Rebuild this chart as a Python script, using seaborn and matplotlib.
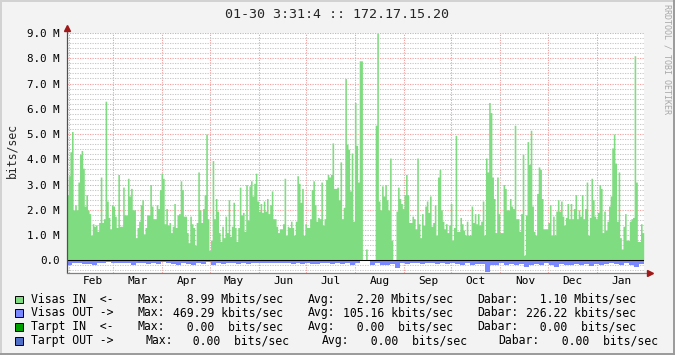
import datetime as dt
import numpy as np
import matplotlib
matplotlib.use("Agg")
import matplotlib.pyplot as plt
import matplotlib.dates as mdates
from matplotlib.ticker import MultipleLocator
from matplotlib.patches import Rectangle
from matplotlib.lines import Line2D
import seaborn as sns

sns.set_theme(style="white")
plt.rcParams['font.family'] = ['DejaVu Sans Mono', 'DejaVu Sans']

nan = np.nan

# ---- data (Mbit/s), roughly one value per day ----
visas_in = [
    2.6, 3.35, 4.3, 5.1, 2.0, 2.2, 2.0, 3.1, 4.2, 4.35,
    3.65, 2.15, 2.6, 2.0, 1.85, 1.0, 1.45, 1.35, 1.4, 1.15,
    1.5, 3.3, 1.5, 1.65, 6.3, 2.35, 1.7, 1.25, 2.2, 2.15,
    1.75, 1.3, 3.4, 1.35, 1.35, 2.9, 1.8, 1.8, 3.25, 2.55,
    2.85, 2.0, 2.0, 0.9, 1.3, 1.55, 2.2, 2.4, 1.05, 1.3,
    1.8, 1.8, 3.0, 2.15, 1.65, 1.65, 2.2, 2.05, 2.8, 3.45,
    3.25, 1.45, 2.05, 1.4, 1.5, 1.1, 1.35, 2.25, 1.3, 1.8,
    1.85, 3.15, 2.8, 1.75, 1.75, 1.1, 0.7, 1.75, 1.45, 1.3,
    0.6, 1.5, 3.5, 2.0, 1.5, 2.05, 2.6, 5.0, 1.65, 0.4,
    0.8,
    3.95, 1.65, 2.45, 1.95, 1.1, 0.75, 1.35, 0.9, 1.75, 1.1,
    2.4, 0.95, 1.35, 2.3, 1.3, 0.75, 1.3, 2.9, 1.8, 1.9,
    1.15, 3.0, 1.6, 2.95, 3.15, 2.55, 3.05, 3.45, 2.35, 1.95,
    2.25, 1.9, 2.35, 1.95, 2.45, 1.85, 2.2, 2.75, 1.65, 1.65,
    1.35, 1.1, 1.25, 1.25, 1.45, 3.25, 1.0, 1.35, 1.3, 1.55,
    1.3, 1.0, 1.55, 3.35, 3.05, 2.3, 2.85, 1.0, 1.45, 1.3,
    1.3, 1.65, 2.8, 3.15, 2.2, 1.55, 1.7, 1.65, 3.1, 1.4,
    1.65, 3.2, 3.4, 3.3, 3.4, 4.65, 2.85, 2.85, 2.9, 2.4,
    3.9, 1.65, 2.1, 7.2, 4.6, 4.4, 2.75, 4.25,
    1.55, 6.25, 4.55, 3.1, 7.9, 7.9,
    nan, nan, 0.45, nan, nan, nan, nan, nan,
    5.35, 8.99, 2.35, 2.0, 2.95, 2.55, 3.0, 2.4, 2.0, 4.05, 0.8,
    nan, nan,
    1.95, 2.9, 2.45, 2.25, 2.05, 2.6, 3.4, 2.6, 1.5, 1.5,
    1.75, 1.65, 1.25, 4.05, 1.45, 0.9, 1.85, 1.4, 2.15, 2.35,
    1.9, 2.55, 1.35, 1.5, 2.2, 1.0, 3.3, 3.6, 2.0, 1.55,
    1.25, 1.45, 1.1, 1.4, 2.25, 0.8, 1.3, 4.95, 1.15, 1.15,
    1.7, 1.45, 1.2, 1.0, 1.55, 1.0, 1.0, 2.15, 1.5, 1.85,
    1.45, 1.85, 1.4, 1.55, 2.35, 1.0, 4.05, 3.5, 6.25, 5.85,
    3.3, 2.45, 1.1,
    3.3, 1.85, 1.1, 1.1, 3.0, 2.85, 2.0, 2.0, 2.45, 2.15,
    2.05, 5.35, 1.65, 1.65, 1.15, 1.85, 4.2, 0.2, 1.8, 4.7,
    3.8, 5.15, 2.15, 1.15, 1.0, 2.65, 3.7, 3.6, 2.45, 1.25,
    1.25, 1.25, 1.5, 2.2, 1.0, 1.75, 1.0, 1.95, 2.4, 1.95,
    2.35, 1.75, 1.4, 1.7, 2.25, 1.65, 2.25, 1.65, 2.05, 2.6,
    1.65, 2.0, 1.75, 2.6, 1.65, 2.05, 3.1, 1.0, 1.7, 3.25,
    2.4, 1.75, 1.65, 1.9, 3.0, 2.85, 1.1, 1.95, 1.2, 1.55,
    2.15, 2.55, 4.45, 5.0, 3.85, 1.55, 3.5, 0.9, 0.45, 1.35,
    1.85, 0.8, 0.8, 1.55, 1.65, 1.7, 8.1, 3.1, 0.75, 0.75,
    1.45, 1.1,
]

# outgoing traffic (Mbit/s), drawn below zero, roughly one value per 3 days
visas_out = [
    0.18, 0.09, 0.12, 0.15, 0.14, 0.19, 0.12, 0.10, 0.06, 0.10,
    0.09, 0.10, 0.11, 0.19, 0.12, 0.10, 0.15, 0.11, 0.15, 0.07,
    0.11, 0.15, 0.20, 0.09, 0.14, 0.17, 0.11, 0.15, 0.07, 0.19,
    0.11, 0.14, 0.11, 0.12, 0.15, 0.09, 0.14, 0.12, 0.11,
    0.12, 0.11, 0.11, 0.10, 0.11, 0.12, 0.15, 0.12, 0.15, 0.10,
    0.15, 0.14, 0.12, 0.11, 0.15, 0.12, 0.15, 0.11, 0.19, 0.11,
    nan, nan, 0.19, 0.12, 0.17, 0.19, 0.15, 0.30, 0.12, 0.15,
    0.12, 0.11, 0.15, 0.12, 0.11, 0.15, 0.11, 0.14, 0.11,
    0.15, 0.17, 0.12, 0.17, 0.15, 0.14, 0.47, 0.19, 0.17, 0.11,
    0.19, 0.15, 0.19, 0.15, 0.26, 0.19, 0.15, 0.17, 0.11, 0.17,
    0.27, 0.15, 0.19, 0.17, 0.14, 0.19, 0.15, 0.23, 0.15, 0.18,
    0.15, 0.12, 0.15, 0.17, 0.11, 0.19, 0.26, 0.15,
]

start = dt.datetime(2009, 1, 30, 15, 31)
end = dt.datetime(2010, 1, 30, 15, 31)

title = "01-30 3:31:4 :: 172.17.15.20"
y_label = "bits/sec"
month_labels = ["Feb", "Mar", "Apr", "May", "Jun", "Jul",
                "Aug", "Sep", "Oct", "Nov", "Dec", "Jan"]
y_ticks = [0, 1, 2, 3, 4, 5, 6, 7, 8, 9]
y_tick_labels = ["0.0", "1.0 M", "2.0 M", "3.0 M", "4.0 M", "5.0 M",
                 "6.0 M", "7.0 M", "8.0 M", "9.0 M"]
watermark = "RRDTOOL / TOBI OETIKER"

legend_names = ["Visas IN  <-", "Visas OUT ->", "Tarpt IN  <-", "Tarpt OUT ->"]
legend_max = ["  8.99 Mbits/sec", "469.29 kbits/sec", "  0.00  bits/sec", "  0.00  bits/sec"]
legend_avg = ["  2.20 Mbits/sec", "105.16 kbits/sec", "  0.00  bits/sec", "  0.00  bits/sec"]
legend_cur = ["  1.10 Mbits/sec", "226.22 kbits/sec", "  0.00  bits/sec", "  0.00  bits/sec"]
legend_colors = ["#80DC80", "#7A88FF", "#00A000", "#5070C8"]

IN_COLOR = legend_colors[0]
OUT_COLOR = legend_colors[1]
BG = "#F3F3F3"
MGRID = "#F2A4A4"
GRID = "#C8C8C8"

W, H = 675, 355
fig = plt.figure(figsize=(W / 100, H / 100), dpi=100, facecolor=BG)
ax = fig.add_axes([66.7 / W, 1 - 273.0 / H, 577 / W, 240 / H])
ax.set_facecolor("white")

t0 = mdates.date2num(start)
t1 = mdates.date2num(end)

in_arr = np.array(visas_in, dtype=float)
in_edges = np.linspace(t0, t1, len(in_arr) + 1)
in_centers = (in_edges[:-1] + in_edges[1:]) / 2
sns.histplot(x=in_centers, weights=np.nan_to_num(in_arr), bins=list(in_edges),
             element="step", fill=True, color=IN_COLOR, alpha=1,
             linewidth=0, ax=ax, zorder=2)

out_arr = np.array(visas_out, dtype=float)
out_edges = np.linspace(t0, t1, len(out_arr) + 1)
out_centers = (out_edges[:-1] + out_edges[1:]) / 2
sns.histplot(x=out_centers, weights=-np.nan_to_num(out_arr), bins=list(out_edges),
             element="step", fill=True, color=OUT_COLOR, alpha=1,
             linewidth=0, ax=ax, zorder=2)

ax.axhline(0, color="black", lw=0.75, zorder=4)

ax.set_xlim(t0, t1)
ax.set_ylim(-0.5, 9.0)
ax.set_xlabel("")
ax.set_ylabel("")
ax.xaxis_date()

# grids
dots = (0, (1.2, 1.2))
ax.xaxis.set_major_locator(mdates.MonthLocator())
ax.xaxis.set_major_formatter(plt.NullFormatter())
month_starts = [mdates.date2num(dt.datetime(2009 + (m > 12), (m - 1) % 12 + 1, 1))
                for m in range(2, 14)]
mids = [m + 15.5 for m in month_starts]
ax.set_xticks(mids, labels=month_labels, minor=True)
ax.set_yticks(y_ticks, labels=y_tick_labels)
ax.yaxis.set_minor_locator(MultipleLocator(0.2))
ax.set_axisbelow(True)
ax.grid(which="major", axis="both", color=MGRID, linestyle=dots, lw=0.75)
ax.grid(which="minor", axis="y", color=GRID, linestyle=dots, lw=0.75)
ax.grid(which="minor", axis="x", visible=False)

ax.tick_params(axis="y", which="major", direction="out", length=3, width=0.7,
               color="#555555", pad=2, labelsize=7.8, labelcolor="black")
ax.tick_params(axis="y", which="minor", direction="out", length=2, width=0.6,
               color="#555555")
ax.tick_params(axis="x", which="major", direction="out", length=3, width=0.7,
               color=MGRID)
ax.tick_params(axis="x", which="minor", length=0, pad=2.5, labelsize=8,
               labelcolor="black")

for s in ax.spines.values():
    s.set_visible(False)

# axis lines with arrows
ax.plot([0, 0], [0, 1.013], transform=ax.transAxes, color="#505050", lw=0.9,
        clip_on=False, zorder=5)
ax.plot([0], [1.021], marker="^", ms=4.5, color="#A01818", mec="#A01818",
        transform=ax.transAxes, clip_on=False, zorder=6)
ax.plot([0, 1.006], [0, 0], transform=ax.transAxes, color="#808080", lw=0.9,
        clip_on=False, zorder=5)
ax.plot([1.011], [0], marker=">", ms=4.5, color="#A01818", mec="#A01818",
        transform=ax.transAxes, clip_on=False, zorder=6)

# texts
fig.text(337 / W, 1 - 15 / H, title, ha="center", va="center", fontsize=9.6)
fig.text(12 / W, 1 - 151 / H, y_label, rotation=90, ha="center", va="center",
         fontsize=8.3)
fig.text(666.5 / W, 1 - 4 / H, watermark, rotation=270, ha="center", va="top",
         fontsize=6, color="#A8A8A8")

# legend
row_y = [299.3, 312.9, 326.6, 340.6]
cols = [
    (30.7, 137.7, 173.3, 307.3, 342.8, 477.3, 526.5),
    (30.7, 137.7, 173.3, 307.3, 342.8, 477.3, 526.5),
    (30.7, 137.7, 173.3, 307.3, 342.8, 477.3, 526.5),
    (30.7, 145.0, 179.4, 321.7, 356.8, 498.3, 547.8),
]
for i in range(4):
    cy = row_y[i]
    fig.add_artist(Rectangle((15 / W, 1 - (cy + 4) / H), 7.5 / W, 7.5 / H,
                             transform=fig.transFigure, facecolor=legend_colors[i],
                             edgecolor="black", lw=0.7))
    parts = [legend_names[i], "Max:", legend_max[i], "Avg:", legend_avg[i],
             "Dabar:", legend_cur[i]]
    for xp, txt in zip(cols[i], parts):
        fig.text(xp / W, 1 - cy / H, txt, ha="left", va="center", fontsize=8.3,
                 color="black")

# canvas frame
fr = 1.4
fig.add_artist(Line2D([0, 1], [1 - 1 / H, 1 - 1 / H], transform=fig.transFigure,
                      color="#D2D2D2", lw=fr))
fig.add_artist(Line2D([1 / W, 1 / W], [0, 1], transform=fig.transFigure,
                      color="#D2D2D2", lw=fr))
fig.add_artist(Line2D([0, 1], [1 / H, 1 / H], transform=fig.transFigure,
                      color="#9A9A9A", lw=fr))
fig.add_artist(Line2D([1 - 1 / W, 1 - 1 / W], [0, 1], transform=fig.transFigure,
                      color="#9A9A9A", lw=fr))

fig.savefig("out.png", dpi=100, facecolor=fig.get_facecolor())
